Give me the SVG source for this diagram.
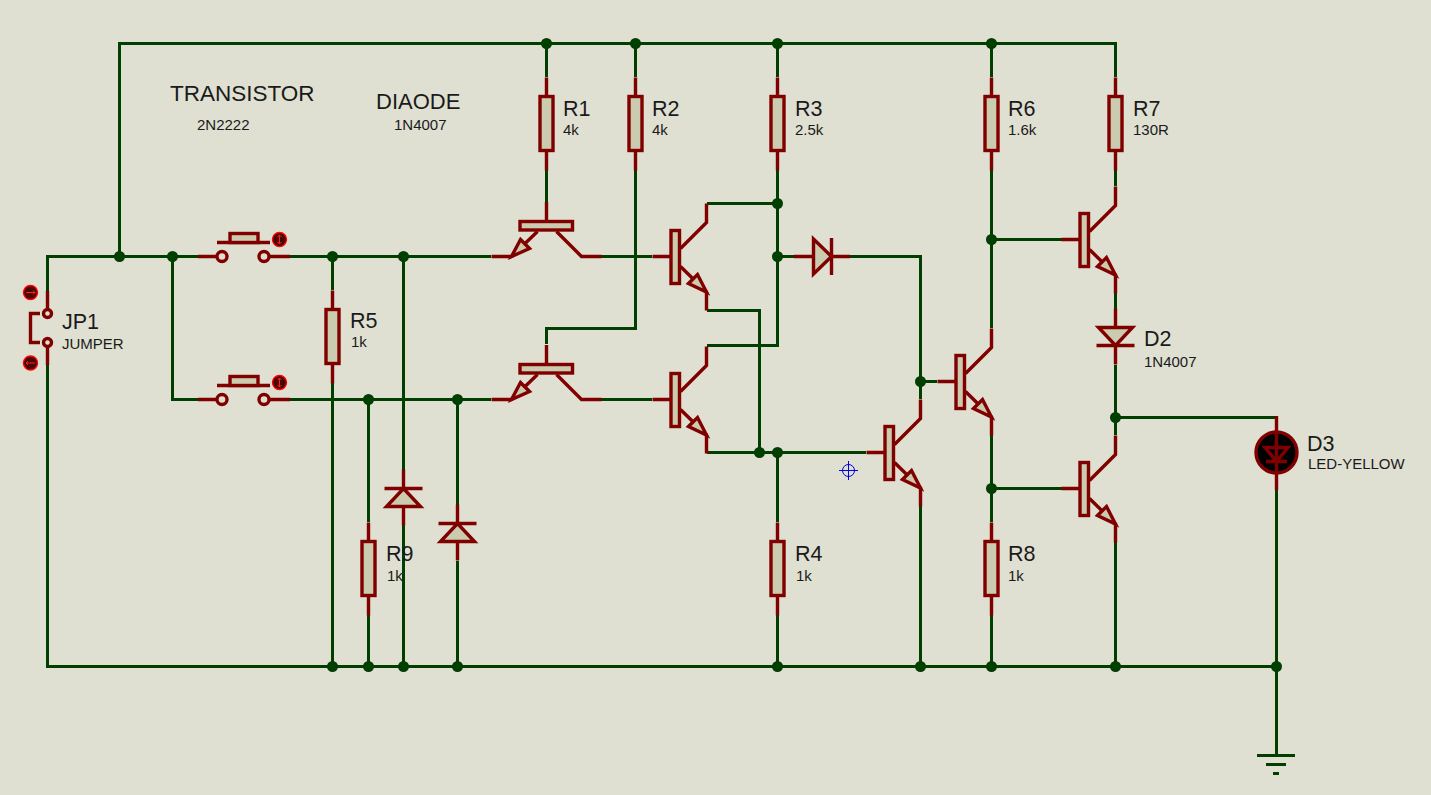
<svg xmlns="http://www.w3.org/2000/svg" width="1431" height="795" viewBox="0 0 1431 795">
<style>
.w{fill:none;stroke:#003f00;stroke-width:3;shape-rendering:crispEdges}
.r{fill:none;stroke:#800000;stroke-width:3.400}
.b{fill:#cbcbb0;stroke:#800000;stroke-width:3.400}
.o{fill:#dfe0d1;stroke:#800000;stroke-width:3.400}
.j{fill:#003f00}
.ind{fill:#4a0505;stroke:#ff0000;stroke-width:1.400}
.a{fill:none;stroke:#ff2020;stroke-width:1}
text{font-family:"Liberation Sans",Arial,sans-serif;fill:#1a1a1a}
.l{font-size:21.500px}
.s{font-size:15px}
</style>
<defs>
<g id="npn"><path class="r" d="M-18 0H0M10 -8L36 -34V-53M10 10L36 35.500V54"/><rect class="b" x="0.500" y="-26" width="8.500" height="53"/><path class="b" d="M18 27L27 18L36 35.500Z"/></g>
<g id="hq"><path class="r" d="M0 -54.500V-35M-35 0H-55M-9 -25L-35 0M10 -25L35 0H55"/><rect class="b" x="-26.500" y="-35" width="52.500" height="8.500"/><path class="b" d="M-26 -17L-17 -8L-35 0Z"/></g>
<g id="res"><path class="r" d="M0 -19V0M0 55V74"/><rect class="b" x="-6.500" y="0" width="13" height="54"/></g>
<g id="sw"><path class="r" d="M-24 0H-5M47 0H68M-5 -14H48"/><rect class="b" x="8" y="-23" width="28" height="9"/><circle class="o" cx="0" cy="0" r="5"/><circle class="o" cx="42" cy="0" r="5"/><circle class="ind" cx="57.500" cy="-17" r="7"/><path class="a" d="M57.500 -21.500V-12.500M55.500 -19.500L57.500 -21.500L59.500 -19.500M55.500 -14.500L57.500 -12.500L59.500 -14.500"/></g>
<g id="dv"><path class="r" d="M0 -28V28"/><path class="b" d="M-17 -9H17L0 9Z"/><path class="r" d="M-19 9H19"/></g>
<g id="zn"><path class="r" d="M0 -28V28"/><path class="b" d="M-17 9H17L0 -9Z"/><path class="r" d="M-19 -9H19"/></g>
</defs>
<rect width="1431" height="795" fill="#dfe0d1"/>
<g id="connectors">
<path class="w" d="M119.500 256.500V43.500H1115.500V77"/>
<path class="w" d="M47.500 291V256.500H198"/>
<path class="w" d="M172.500 256.500V399.500H198"/>
<path class="w" d="M290 256.500H491M601 256.500H652"/>
<path class="w" d="M290 399.500H491M601 399.500H652"/>
<path class="w" d="M47.500 365V666.500H1276.500"/>
<path class="w" d="M546.500 43.500V77M546.500 170V202"/>
<path class="w" d="M635.500 43.500V77M635.500 170V328.500H546.500V344"/>
<path class="w" d="M777.500 43.500V77M777.500 170V345.500H706.500"/>
<path class="w" d="M706.500 203.500H777.500M777.500 256.500H794"/>
<path class="w" d="M850 256.500H920.500V399"/>
<path class="w" d="M920.500 381.500H937"/>
<path class="w" d="M706.500 310.500H759.500V452.500"/>
<path class="w" d="M706.500 452.500H866"/>
<path class="w" d="M777.500 452.500V522M777.500 615V666.500"/>
<path class="w" d="M920.500 506V666.500"/>
<path class="w" d="M991.500 43.500V77M991.500 170V328"/>
<path class="w" d="M991.500 239.500H1062M991.500 488.500H1062"/>
<path class="w" d="M991.500 435V522M991.500 615V666.500"/>
<path class="w" d="M1115.500 170V186M1115.500 293V309M1115.500 365V435M1115.500 542V666.500"/>
<path class="w" d="M1115.500 417.500H1276.500V418"/>
<path class="w" d="M1276.500 490V755"/>
<path class="w" d="M332.500 256.500V290M332.500 383V666.500"/>
<path class="w" d="M368.500 399.500V522M368.500 615V666.500"/>
<path class="w" d="M403.500 256.500V470M403.500 525V666.500"/>
<path class="w" d="M457.500 399.500V505M457.500 561V666.500"/>
</g>
<g id="junctions" class="j">
<circle cx="546.500" cy="43.500" r="5.500"/><circle cx="635.500" cy="43.500" r="5.500"/><circle cx="777.500" cy="43.500" r="5.500"/><circle cx="991.500" cy="43.500" r="5.500"/>
<circle cx="119.500" cy="256.500" r="5.500"/><circle cx="172.500" cy="256.500" r="5.500"/><circle cx="332.500" cy="256.500" r="5.500"/><circle cx="403.500" cy="256.500" r="5.500"/>
<circle cx="368.500" cy="399.500" r="5.500"/><circle cx="457.500" cy="399.500" r="5.500"/>
<circle cx="777.500" cy="203.500" r="5.500"/><circle cx="777.500" cy="256.500" r="5.500"/><circle cx="759.500" cy="452.500" r="5.500"/><circle cx="777.500" cy="452.500" r="5.500"/>
<circle cx="920.500" cy="381.500" r="5.500"/><circle cx="991.500" cy="239.500" r="5.500"/><circle cx="991.500" cy="488.500" r="5.500"/><circle cx="1115.500" cy="417.500" r="5.500"/>
<circle cx="332.500" cy="666.500" r="5.500"/><circle cx="368.500" cy="666.500" r="5.500"/><circle cx="403.500" cy="666.500" r="5.500"/><circle cx="457.500" cy="666.500" r="5.500"/><circle cx="777.500" cy="666.500" r="5.500"/><circle cx="920.500" cy="666.500" r="5.500"/><circle cx="991.500" cy="666.500" r="5.500"/><circle cx="1115.500" cy="666.500" r="5.500"/><circle cx="1276.500" cy="666.500" r="5.500"/>
</g>
<g id="JP1">
<path class="r" d="M47.500 291V309M47.500 347V365M40 313.500H30.500V342.500H40"/>
<circle class="o" cx="47.500" cy="313.500" r="4"/><circle class="o" cx="47.500" cy="342.500" r="4"/>
<circle class="ind" cx="30.500" cy="292.500" r="7"/><path class="a" d="M26 292.500H35M33 290.500L35 292.500L33 294.500"/>
<circle class="ind" cx="30.500" cy="363" r="7"/><path class="a" d="M26 363H35M28 361L26 363L28 365"/>
<text class="l" x="62" y="329">JP1</text><text class="s" x="62" y="349">JUMPER</text>
</g>
<g id="SW1"><use href="#sw" x="222" y="256.500"/></g>
<g id="SW2"><use href="#sw" x="222" y="399.500"/></g>
<g id="Q1"><use href="#hq" x="546.500" y="256.500"/></g>
<g id="Q2"><use href="#hq" x="546.500" y="399.500"/></g>
<g id="Q3"><use href="#npn" x="670.500" y="256.500"/></g>
<g id="Q4"><use href="#npn" x="670.500" y="399.500"/></g>
<g id="Q5"><use href="#npn" x="884.500" y="452.500"/></g>
<g id="Q6"><use href="#npn" x="955.500" y="381.500"/></g>
<g id="Q7"><use href="#npn" x="1079.500" y="239.500"/></g>
<g id="Q8"><use href="#npn" x="1079.500" y="488.500"/></g>
<g id="R1"><use href="#res" x="546.500" y="96.500"/><text class="l" x="563" y="115.500">R1</text><text class="s" x="563" y="135">4k</text></g>
<g id="R2"><use href="#res" x="635.500" y="96.500"/><text class="l" x="652" y="115.500">R2</text><text class="s" x="652" y="135">4k</text></g>
<g id="R3"><use href="#res" x="777.500" y="96.500"/><text class="l" x="795" y="115.500">R3</text><text class="s" x="795" y="135">2.5k</text></g>
<g id="R6"><use href="#res" x="991.500" y="96.500"/><text class="l" x="1008" y="115.500">R6</text><text class="s" x="1008" y="135">1.6k</text></g>
<g id="R7"><use href="#res" x="1115.500" y="96.500"/><text class="l" x="1133" y="115.500">R7</text><text class="s" x="1133" y="135">130R</text></g>
<g id="R5"><use href="#res" x="332.500" y="309.500"/><text class="l" x="350" y="328">R5</text><text class="s" x="351" y="347">1k</text></g>
<g id="R9"><use href="#res" x="368.500" y="541.500"/><text class="l" x="386" y="561">R9</text><text class="s" x="387" y="581">1k</text></g>
<g id="R4"><use href="#res" x="777.500" y="541.500"/><text class="l" x="795" y="561">R4</text><text class="s" x="796" y="581">1k</text></g>
<g id="R8"><use href="#res" x="991.500" y="541.500"/><text class="l" x="1008" y="561">R8</text><text class="s" x="1008" y="581">1k</text></g>
<g id="D1"><path class="r" d="M794 256.500H850"/><path class="b" d="M813.500 239V274L831.500 256.500Z"/><path class="r" d="M831.500 238V275"/></g>
<g id="D2"><use href="#dv" x="1115.500" y="336.500"/><text class="l" x="1144" y="346">D2</text><text class="s" x="1144" y="367">1N4007</text></g>
<g id="D4"><use href="#zn" x="403.500" y="497.500"/></g>
<g id="D5"><use href="#zn" x="457.500" y="532.500"/></g>
<g id="D3">
<path class="r" d="M1276.500 416V490"/>
<circle cx="1276.500" cy="452.500" r="20.500" fill="#000" stroke="#800000" stroke-width="3.400"/>
<path class="r" d="M1276.500 431V474M1265 447.500H1288L1276.500 461.500ZM1266 461.500H1287"/>
<text class="l" x="1307" y="451">D3</text><text class="s" x="1308" y="469">LED-YELLOW</text>
</g>
<g id="GND">
<path class="w" d="M1257 755.500H1295M1266 764.500H1286M1273 773.500H1279"/>
</g>
<g id="cursor" fill="none" stroke="#0000e0" stroke-width="1">
<circle cx="848.500" cy="470.500" r="6"/><path d="M839 470.500H858M848.500 461V480"/>
</g>
<g id="notes">
<text x="170" y="101" font-size="22.500">TRANSISTOR</text>
<text class="s" x="197" y="130">2N2222</text>
<text x="376" y="109" font-size="22">DIAODE</text>
<text class="s" x="394" y="130">1N4007</text>
</g>
</svg>
